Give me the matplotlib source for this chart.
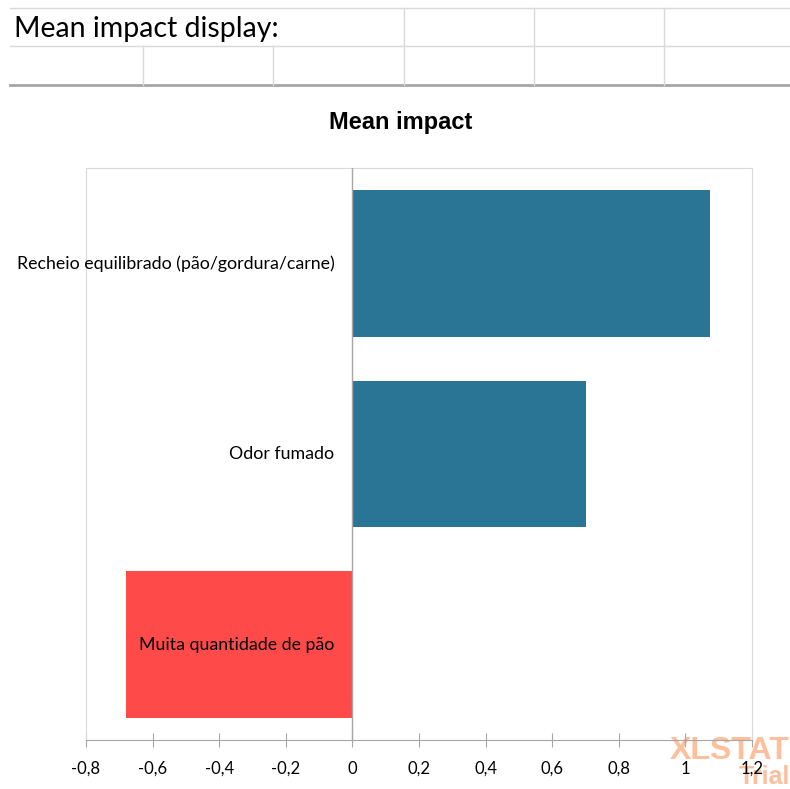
import matplotlib.pyplot as plt
from matplotlib.lines import Line2D

# Data
categories = ["Recheio equilibrado (pão/gordura/carne)", "Odor fumado", "Muita quantidade de pão"]
mean_impact = [1.075, 0.70, -0.68]
bar_colors = ["#2A7496", "#2A7496", "#FF4A4A"]
xticks = [-0.8, -0.6, -0.4, -0.2, 0, 0.2, 0.4, 0.6, 0.8, 1.0, 1.2]
xtick_labels = ["-0,8", "-0,6", "-0,4", "-0,2", "0", "0,2", "0,4", "0,6", "0,8", "1", "1,2"]

W, H = 790, 789
fig = plt.figure(figsize=(W / 100, H / 100), dpi=100)

# spreadsheet grid on top
def hline(y, x0, x1, color="#d9d9d9", lw=1.0):
    fig.add_artist(Line2D([x0 / W, x1 / W], [1 - y / H, 1 - y / H], color=color, lw=lw))

def vline(x, y0, y1, color="#d9d9d9", lw=1.0):
    fig.add_artist(Line2D([x / W, x / W], [1 - y0 / H, 1 - y1 / H], color=color, lw=lw))

hline(8, 10, 790)
hline(46, 10, 790)
hline(85, 10, 790, color="#a6a6a6", lw=2.0)
for x in [404, 534, 664]:
    vline(x, 8, 85)
for x in [143, 273]:
    vline(x, 46, 85)
fig.text(14 / W, 1 - 29 / H, "Mean impact display:", fontsize=20.5, family="Lato",
         va="center", ha="left")

# watermark (behind everything)
fig.text(1 - 0 / W, 1 - 751 / H, "XLSTAT", fontsize=23, fontweight="bold", color="#FFBE9C",
         ha="right", va="center", family="Liberation Sans", zorder=-1)
fig.text(1 - 0 / W, 1 - 777 / H, "Trial", fontsize=18, fontweight="bold", color="#FFBE9C",
         ha="right", va="center", family="Liberation Sans", zorder=-1)

# chart
ax = fig.add_axes([86 / W, 1 - 740 / H, 666 / W, 572 / H])
ax.patch.set_alpha(0)
ypos = range(len(categories))
ax.barh(ypos, mean_impact, height=0.77, color=bar_colors, zorder=2)
ax.axvline(0, color="#a6a6a6", lw=1.0, zorder=3)
ax.set_xlim(-0.8, 1.2)
ax.set_ylim(2.5, -0.5)
ax.set_xticks(xticks)
ax.set_xticklabels(xtick_labels, family="Lato", fontsize=12)
ax.set_yticks([])
ax.tick_params(axis="x", direction="inout", length=10, color="#a6a6a6", pad=10)
for side in ["top", "left", "right"]:
    ax.spines[side].set_color("#d9d9d9")
ax.spines["bottom"].set_color("#a6a6a6")

for i, label in enumerate(categories):
    ax.annotate(label, xy=(0, i), xytext=(-13, 0), textcoords="offset points",
                ha="right", va="center", fontsize=12.8, family="Lato", zorder=4)

ax.set_title("Mean impact", fontsize=17, fontweight="bold", family="Liberation Sans",
             pad=28, x=(401 - 86) / 666)

fig.savefig("out.png", dpi=100)
